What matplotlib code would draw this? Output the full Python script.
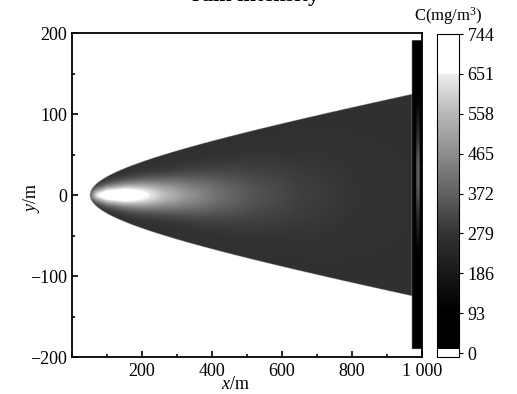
import matplotlib
matplotlib.use("Agg")
import matplotlib.pyplot as plt
import numpy as np
from matplotlib.colors import LinearSegmentedColormap, Normalize
from matplotlib.ticker import FixedLocator, MultipleLocator

plt.rcParams['font.family'] = ['Liberation Serif', 'DejaVu Serif']
plt.rcParams['mathtext.fontset'] = 'custom'
plt.rcParams['mathtext.rm'] = 'Liberation Serif'
plt.rcParams['mathtext.it'] = 'Liberation Serif:italic'
plt.rcParams['axes.unicode_minus'] = True

# plume outline: downwind distance (m) -> half width (m)
edge_x = [51, 90, 185, 280, 375, 470, 566, 661, 756, 851, 971]
edge_hw = [0, 22, 38, 53, 65, 75, 86, 94, 102, 112, 126]

# centre-line excess concentration above the plume background and glow width
core_x = [51, 70, 100, 150, 200, 260, 330, 420, 520, 650, 800, 1000]
core_amp = [100, 360, 490, 510, 420, 300, 210, 130, 75, 35, 10, 0]
core_sigma = [5, 6, 8, 10, 12, 14, 17, 21, 26, 32, 40, 45]
plume_bg = 270

# dark wall at the end of the domain
wall_x = [972, 1000]
wall_y = [-190, 191]
wall_level = 40
streak_x = [984, 994]
streak_y0, streak_sigma, streak_amp = 25, 55, 330

c_ticks = [0, 93, 186, 279, 372, 465, 558, 651, 744]
c_min, c_max = -9.3, 744
x_ticks = [200, 400, 600, 800, 1000]
x_labels = ["200", "400", "600", "800", "1 000"]
y_ticks = [-200, -100, 0, 100, 200]

# gray ramp sampled from the colour bar (value, gray level)
ramp = [(c_min, 1.0), (7, 1.0), (7.01, 0.0), (100, 0.0), (279, 0.2),
        (372, 0.38), (465, 0.55), (558, 0.72), (651, 0.93), (652, 1.0),
        (744, 1.0)]
cmap = LinearSegmentedColormap.from_list(
    "plume", [((v - c_min) / (c_max - c_min), (g, g, g)) for v, g in ramp], N=512)

# smooth outline: least-squares fit hw^2 = a*d + b*d^2, d = distance from tip
dx = np.array(edge_x, float) - edge_x[0]
A = np.column_stack([dx, dx ** 2])
coef, *_ = np.linalg.lstsq(A, np.array(edge_hw, float) ** 2, rcond=None)

xs = np.linspace(0, 1000, 1400)
ys = np.linspace(-200, 200, 800)
X, Y = np.meshgrid(xs, ys)
D = np.clip(X - edge_x[0], 0, None)
hw = np.sqrt(coef[0] * D + coef[1] * D ** 2)
amp = np.interp(X, core_x, core_amp)
sig = np.interp(X, core_x, core_sigma)
C = np.zeros_like(X)
inside = (np.abs(Y) <= hw) & (X >= edge_x[0]) & (X <= edge_x[-1])
C[inside] = plume_bg + (amp * np.exp(-Y ** 2 / (2 * sig ** 2)))[inside]
wall = (X >= wall_x[0]) & (Y >= wall_y[0]) & (Y <= wall_y[1])
C[wall] = wall_level
streak = wall & (X >= streak_x[0]) & (X <= streak_x[1])
C[streak] += (streak_amp * np.exp(-(Y - streak_y0) ** 2 / (2 * streak_sigma ** 2)))[streak]

fig = plt.figure(figsize=(5.17, 3.94), dpi=100)
ax = fig.add_axes([0.1393, 0.0939, 0.6769, 0.8223])
norm = Normalize(vmin=c_min, vmax=c_max)
im = ax.imshow(C, extent=[0, 1000, -200, 200], origin='lower', aspect='auto',
               cmap=cmap, norm=norm, interpolation='bilinear')
ax.set_xlim(0, 1000)
ax.set_ylim(-200, 200)
ax.xaxis.set_major_locator(FixedLocator(x_ticks))
ax.set_xticklabels(x_labels)
ax.xaxis.set_minor_locator(MultipleLocator(100))
ax.yaxis.set_major_locator(FixedLocator(y_ticks))
ax.yaxis.set_minor_locator(MultipleLocator(50))
ax.tick_params(which='both', direction='in', labelsize=13, width=1.2)
ax.tick_params(which='major', length=4)
ax.tick_params(which='minor', length=2.5)
ax.tick_params(axis='x', pad=4)
for s in ax.spines.values():
    s.set_linewidth(1.3)
ax.set_xlabel("$x$/m", fontsize=13)
ax.xaxis.set_label_coords(0.467, -0.058)
ax.set_ylabel("$y$/m", fontsize=13)
ax.yaxis.set_label_coords(-0.085, 0.49)

cax = fig.add_axes([0.8453, 0.0939, 0.0426, 0.8198])
cb = fig.colorbar(im, cax=cax, ticks=c_ticks)
cb.outline.set_linewidth(0.8)
cax.tick_params(direction='out', length=3, width=0.8, labelsize=13, pad=3)
fig.text(448 / 517, 1 - 16 / 394, "C(mg/m$^3$)", ha='center', va='center',
         fontsize=12)

fig.text(0.495, 1 - 1.5 / 394, "rain intensity", ha='center', va='baseline',
         fontsize=16, fontweight='bold')

fig.savefig("out.png", dpi=100)
